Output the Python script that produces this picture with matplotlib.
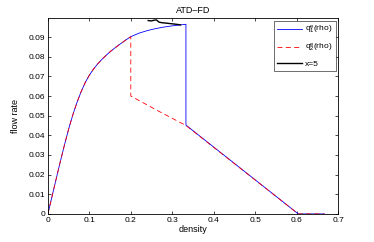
import matplotlib
matplotlib.use("Agg")
import matplotlib.pyplot as plt

plt.rcParams['font.family'] = ['Liberation Sans', 'DejaVu Sans']
plt.rcParams['mathtext.default'] = 'regular'

# free-flow branch
rho_free = [0.00, 0.01, 0.02, 0.03, 0.04, 0.05, 0.06, 0.07, 0.08, 0.09, 0.10, 0.11, 0.12,
            0.13, 0.14, 0.15, 0.16, 0.17, 0.18, 0.19, 0.20, 0.22, 0.24, 0.26, 0.28, 0.30,
            0.32, 0.333]
q_free = [0.0, 0.0089, 0.0178, 0.0266, 0.0351, 0.0431, 0.0503, 0.0566, 0.0621, 0.0668,
          0.0706, 0.0737, 0.0763, 0.0786, 0.0806, 0.0825, 0.0842, 0.0858, 0.0873, 0.0888,
          0.0902, 0.0920, 0.0933, 0.0943, 0.0951, 0.0957, 0.0962, 0.0965]

# q1: drop at 0.333, then congested line to 0.6, then zero
rho_q1_tail = [0.333, 0.604, 0.667]
q_q1_tail = [0.0452, 0.0, 0.0]

# q2: drop at 0.2, then lower branch
rho_q2_tail = [0.200, 0.267, 0.333, 0.604, 0.667]
q_q2_tail = [0.0600, 0.0523, 0.0450, 0.0, 0.0]

# x=5 trajectory
rho_x5 = [0.242, 0.250, 0.256, 0.262, 0.268, 0.275, 0.285, 0.297, 0.310, 0.320]
q_x5 = [0.0984, 0.0982, 0.0986, 0.0987, 0.0976, 0.0973, 0.0971, 0.0968, 0.0965, 0.0962]

xticks = [0, 0.1, 0.2, 0.3, 0.4, 0.5, 0.6, 0.7]
xticklabels = ['0', '0.1', '0.2', '0.3', '0.4', '0.5', '0.6', '0.7']
yticks = [0, 0.01, 0.02, 0.03, 0.04, 0.05, 0.06, 0.07, 0.08, 0.09]
yticklabels = ['0', '0.01', '0.02', '0.03', '0.04', '0.05', '0.06', '0.07', '0.08', '0.09']

rho_q1 = list(rho_free) + rho_q1_tail
q_q1 = list(q_free) + q_q1_tail
idx = rho_free.index(0.20)
rho_q2 = rho_free[:idx + 1] + rho_q2_tail
q_q2 = q_free[:idx + 1] + q_q2_tail

fig = plt.figure(figsize=(3.74, 2.42), dpi=100)
ax = fig.add_axes([0.128, 0.116, 0.776, 0.808])

ax.plot(rho_q1, q_q1, color='#0000ff', lw=0.6, label=r'q$_1^e$(rho)')
ax.plot(rho_q2, q_q2, color='#ff0000', lw=0.6, ls=(0, (6, 4)), label=r'q$_2^e$(rho)')
ax.plot(rho_x5, q_x5, color='black', lw=1.0, label='x=5')

ax.set_xlim(0, 0.7)
ax.set_ylim(0, 0.0995)
ax.set_xticks(xticks)
ax.set_xticklabels(xticklabels)
ax.set_yticks(yticks)
ax.set_yticklabels(yticklabels)
ax.tick_params(direction='in', length=2.5, width=0.5, labelsize=6, top=True, right=True, pad=2)
for s in ax.spines.values():
    s.set_linewidth(0.6)

ax.set_title('ATD\u2013FD', fontsize=6.5, pad=4)
ax.set_xlabel('density', fontsize=6.5, labelpad=1)
ax.set_ylabel('flow rate', fontsize=6.5, labelpad=6)

leg = ax.legend(loc='upper right', fontsize=6, frameon=True, fancybox=False,
                edgecolor='black', borderaxespad=0.3, handlelength=3.0,
                handletextpad=0.3, labelspacing=0.7, borderpad=0.4)
leg.get_frame().set_linewidth(0.5)

fig.savefig('out.png', dpi=100, facecolor='white')
